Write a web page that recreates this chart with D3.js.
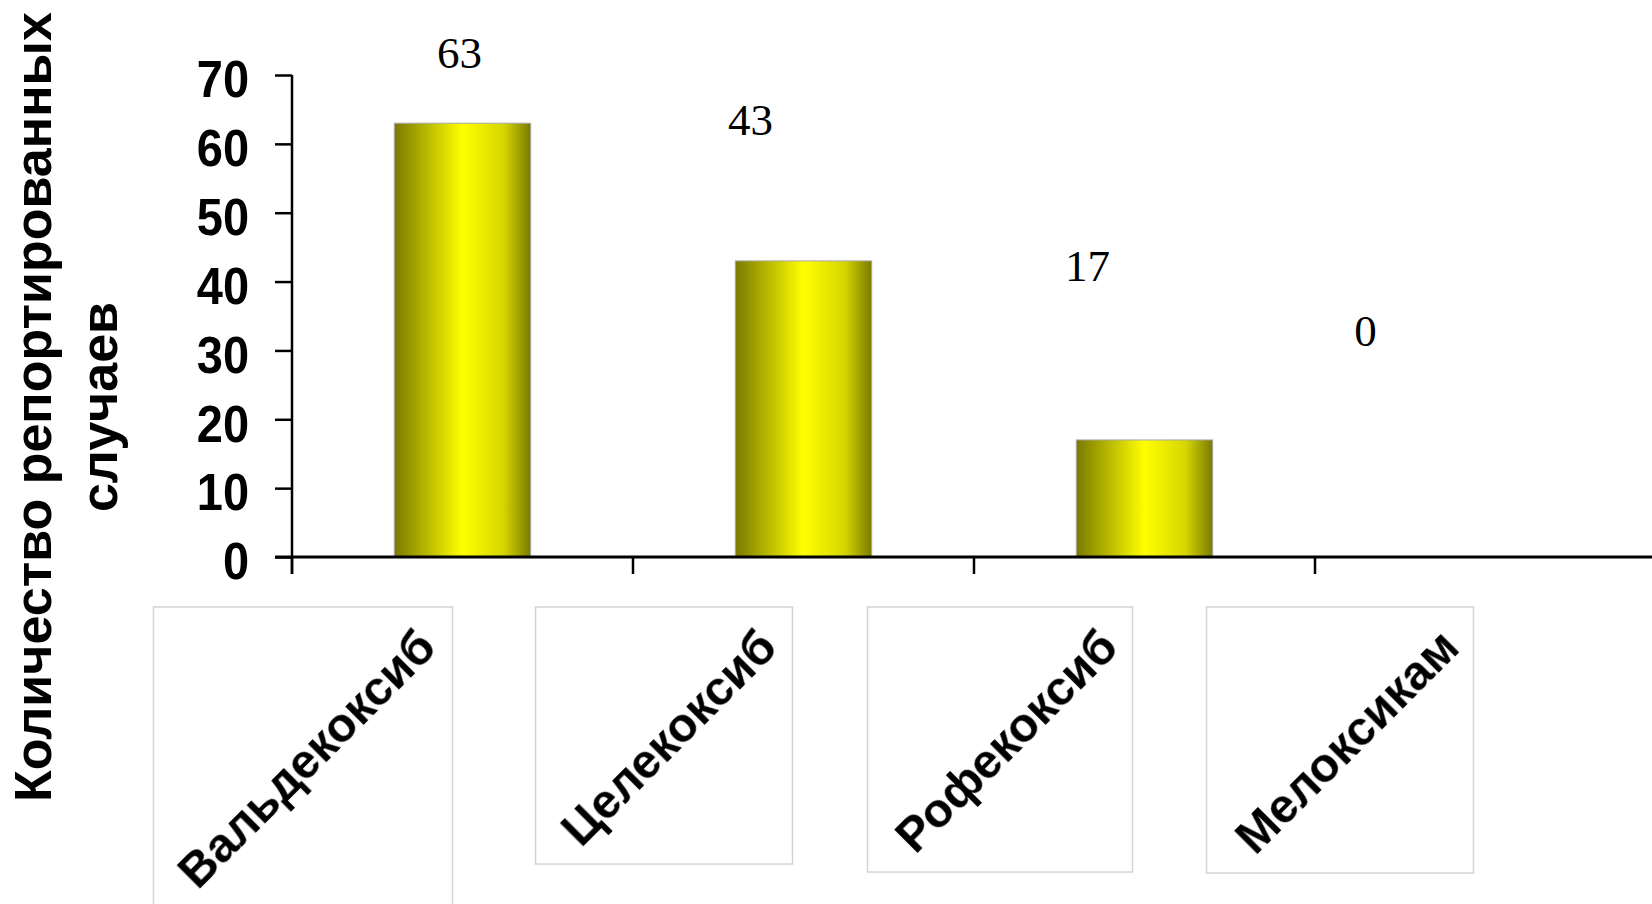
<!DOCTYPE html>
<html>
<head>
<meta charset="utf-8">
<script src="https://d3js.org/d3.v7.min.js"></script>
<style>
  body { margin: 0; background: #fff; }
  svg { display: block; }
</style>
</head>
<body>
<div id="chart"></div>
<script>
// data
const drugs = ["Вальдекоксиб", "Целекоксиб", "Рофекоксиб", "Мелоксикам"];
const cases = [63, 43, 17, 0];
const yTicks = [0, 10, 20, 30, 40, 50, 60, 70];
const yTitle = ["Количество репортированных", "случаев"];

const width = 1652
const height = 904

// label placement, moved by hand in the original (px from bar top / band centre)
const labelShift = [[-3, -55], [-53, -126], [-57, -159], [-120, -211]]
// the category names sit in framed boxes left of each band centre
const boxLayout = [[-309, 299, 320], [-268, 257, 257], [-277, 265, 265], [-279, 267, 266]]

const svg = d3.select("#chart")
    .append("svg")
    .attr("width", width)
    .attr("height", height)

const defs = svg.append("defs")
const grad = defs.append("linearGradient")
    .attr("id", "barFill")
    .attr("x1", "0%").attr("x2", "100%")
    .attr("y1", "0%").attr("y2", "0%")
grad.append("stop").attr("offset", "0%").attr("stop-color", "#7a7a00")
grad.append("stop").attr("offset", "18%").attr("stop-color", "#a9a900")
grad.append("stop").attr("offset", "50%").attr("stop-color", "#ffff00")
grad.append("stop").attr("offset", "80%").attr("stop-color", "#d6d600")
grad.append("stop").attr("offset", "100%").attr("stop-color", "#7a7a00")

defs.append("filter").attr("id", "soft")
    .append("feGaussianBlur").attr("stdDeviation", 0.6)

const x = d3.scaleBand()
    .domain(drugs)
    .range([292, 1656])
    .paddingInner(0)
    .paddingOuter(0)

const y = d3.scaleLinear()
    .domain([0, 70])
    .range([557, 75])

const data = drugs.map((d, i) => ({ name: d, value: cases[i], i: i }))
const barW = x.bandwidth() * 0.4

// bars
svg.append("g")
    .selectAll("rect")
    .data(data.filter(d => d.value > 0))
    .enter().append("rect")
    .attr("x", d => x(d.name) + x.bandwidth() / 2 - barW / 2)
    .attr("y", d => y(d.value))
    .attr("width", barW)
    .attr("height", d => y(0) - y(d.value))
    .attr("fill", "url(#barFill)")
    .attr("stroke", "#a8a8a8")
    .attr("stroke-width", 1)

// y axis
const yAxis = svg.append("g")
    .attr("transform", "translate(292,0)")
    .call(d3.axisLeft(y).tickValues(yTicks).tickSize(17).tickPadding(26))
yAxis.select(".domain").remove()
yAxis.selectAll(".tick line").attr("stroke", "#000").attr("stroke-width", 2.5)
// the original digits are a little taller than wide
yAxis.selectAll(".tick text")
    .attr("font-family", "'Liberation Sans', Arial, sans-serif")
    .attr("font-weight", "bold")
    .attr("font-size", 47)
    .attr("dy", "0.42em")
    .attr("transform", "scale(1,1.1)")
    .attr("fill", "#000")

svg.append("line")
    .attr("x1", 292).attr("x2", 292)
    .attr("y1", y(70)).attr("y2", 574)
    .attr("stroke", "#000").attr("stroke-width", 2.5)

// x axis with ticks on the band edges
svg.append("line")
    .attr("x1", 275).attr("x2", width)
    .attr("y1", y(0)).attr("y2", y(0))
    .attr("stroke", "#000").attr("stroke-width", 3)

svg.append("g")
    .selectAll("line")
    .data(drugs)
    .enter().append("line")
    .attr("x1", d => x(d)).attr("x2", d => x(d))
    .attr("y1", y(0)).attr("y2", 574)
    .attr("stroke", "#000").attr("stroke-width", 2.5)

// value labels
svg.append("g")
    .selectAll("text")
    .data(data)
    .enter().append("text")
    .attr("x", d => x(d.name) + x.bandwidth() / 2 + labelShift[d.i][0])
    .attr("y", d => y(d.value) + labelShift[d.i][1])
    .attr("text-anchor", "middle")
    .attr("font-family", "'Liberation Serif', 'Times New Roman', serif")
    .attr("font-size", 45)
    .attr("fill", "#000")
    .text(d => d.value)

// category boxes
const cat = svg.append("g")
    .selectAll("g")
    .data(data)
    .enter().append("g")

cat.append("rect")
    .attr("x", d => x(d.name) + x.bandwidth() / 2 + boxLayout[d.i][0])
    .attr("y", 607)
    .attr("width", d => boxLayout[d.i][1])
    .attr("height", d => boxLayout[d.i][2])
    .attr("fill", "#fff")
    .attr("stroke", "#d4d4d4")
    .attr("stroke-width", 1.5)

cat.append("text")
    .attr("transform", d => `translate(${x(d.name) + x.bandwidth() / 2 - 24},650) rotate(-45)`)
    .attr("text-anchor", "end")
    .attr("font-family", "'Liberation Sans', Arial, sans-serif")
    .attr("font-weight", "bold")
    .attr("font-size", 48)
    .attr("fill", "#000")
    .attr("filter", "url(#soft)")
    .text(d => d.name)

// y title, two lines
svg.append("text")
    .attr("transform", "translate(0,407) rotate(-90)")
    .attr("text-anchor", "middle")
    .attr("font-family", "'Liberation Sans', Arial, sans-serif")
    .attr("font-weight", "bold")
    .attr("font-size", 52)
    .attr("fill", "#000")
    .selectAll("tspan")
    .data(yTitle)
    .enter().append("tspan")
    .attr("x", 0)
    .attr("y", (d, i) => 51 + i * 66)
    .text(d => d)
</script>
</body>
</html>
